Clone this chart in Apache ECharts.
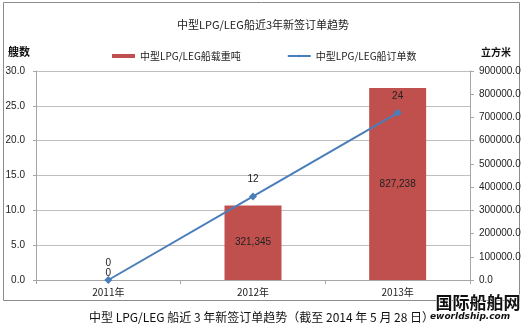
<!DOCTYPE html>
<html><head><meta charset="utf-8">
<script src="https://cdn.jsdelivr.net/npm/echarts@6/dist/echarts.min.js"></script>
<style>html,body{margin:0;padding:0;background:#fff}#c{width:526px;height:334px}</style>
</head><body><div id="c"></div>
<script>
const categories = ['2011年', '2012年', '2013年'];
const tonnage = [0, 321345, 827238];
const orders = [0, 12, 24];
const leftTicks = { min: 0, max: 30, interval: 5 };
const rightTicks = { min: 0, max: 900000, interval: 100000 };
const titleText = '中型LPG/LEG船近3年新签订单趋势';
const captionText = '中型 LPG/LEG 船近 3 年新签订单趋势（截至 2014 年 5 月 28 日）';
const barName = '中型LPG/LEG船载重吨';
const lineName = '中型LPG/LEG船订单数';

const CJK = '"Noto Sans CJK SC", "Liberation Sans", sans-serif';
const NUM = '"Liberation Sans", "Noto Sans CJK SC", sans-serif';
const fmtComma = v => String(v).replace(/\B(?=(\d{3})+(?!\d))/g, ',');

const chart = echarts.init(document.getElementById('c'), null, { renderer: 'canvas' });
chart.setOption({
  animation: false,
  backgroundColor: '#fff',
  title: {
    text: titleText, left: 'center', top: 14,
    textStyle: { fontFamily: CJK, fontSize: 11, fontWeight: 'normal', color: '#222' }
  },
  legend: {
    left: 107, top: 46, itemGap: 46, itemWidth: 23, itemHeight: 4,
    textStyle: { fontFamily: CJK, fontSize: 10, color: '#222' },
    data: [{ name: barName, icon: 'rect' }, { name: lineName }]
  },
  grid: { left: 36, right: 56, top: 71, bottom: 54, containLabel: false },
  xAxis: {
    type: 'category', data: categories, boundaryGap: true,
    axisLine: { lineStyle: { color: '#a6a6a6' } },
    axisTick: { show: true, length: 4, lineStyle: { color: '#a6a6a6' } },
    axisLabel: { fontFamily: CJK, fontSize: 10, color: '#222', margin: 7 }
  },
  yAxis: [
    {
      type: 'value', name: '艘数', position: 'left', ...leftTicks,
      nameLocation: 'end', nameGap: 14,
      nameTextStyle: { fontFamily: CJK, fontSize: 11, fontWeight: 'bold', color: '#111', align: 'center', padding: [0, 0, 0, -34] },
      axisLine: { show: true, lineStyle: { color: '#a6a6a6' } },
      axisTick: { show: true, length: 3, lineStyle: { color: '#a6a6a6' } },
      axisLabel: { fontFamily: NUM, fontSize: 10, color: '#222', margin: 11, formatter: v => v.toFixed(1) },
      splitLine: { show: true, lineStyle: { color: '#bfbfbf', width: 1 } }
    },
    {
      type: 'value', name: '立方米', position: 'right', ...rightTicks,
      nameLocation: 'end', nameGap: 14,
      nameTextStyle: { fontFamily: CJK, fontSize: 10, fontWeight: 'bold', color: '#111', align: 'center', padding: [0, 0, 0, 52] },
      axisLine: { show: true, lineStyle: { color: '#a6a6a6' } },
      axisTick: { show: true, length: 4, inside: false, lineStyle: { color: '#a6a6a6' } },
      axisLabel: { fontFamily: NUM, fontSize: 10, color: '#222', margin: 9, formatter: v => v.toFixed(1) },
      splitLine: { show: false }
    }
  ],
  series: [
    {
      name: barName, type: 'bar', yAxisIndex: 1, barWidth: 57,
      itemStyle: { color: '#C0504D' },
      data: tonnage.map(v => v === 0
        ? { value: v, label: { offset: [0, -7] } }
        : v),
      label: {
        show: true, position: 'inside', fontFamily: NUM, fontSize: 10, color: '#222',
        formatter: p => fmtComma(p.value)
      },
      z: 2
    },
    {
      name: lineName, type: 'line', yAxisIndex: 0,
      data: orders,
      symbol: 'diamond', symbolSize: 8, showAllSymbol: true,
      lineStyle: { color: '#4A7EBB', width: 2 },
      itemStyle: { color: '#4A7EBB' },
      label: { show: true, position: 'top', distance: 8, fontFamily: NUM, fontSize: 10, color: '#222' },
      z: 3
    }
  ],
  graphic: [
    { type: 'rect', shape: { x: 3.5, y: 2.5, width: 516, height: 298 }, style: { fill: 'none', stroke: '#8c8c8c', lineWidth: 1 }, z: -1 },
    { type: 'text', left: 89, top: 311, style: { text: captionText, font: '12px "Noto Sans CJK SC", sans-serif', fill: '#111' } },
    { type: 'text', left: 435, top: 294, style: { text: '国际船舶网', font: 'bold 17px "Noto Sans CJK SC", sans-serif', fill: '#111', stroke: '#fff', lineWidth: 1 } },
    { type: 'text', left: 430, top: 312, style: { text: 'eworldship.com', font: 'italic bold 9px "DejaVu Sans", sans-serif', fill: '#111' } }
  ]
});
</script></body></html>
